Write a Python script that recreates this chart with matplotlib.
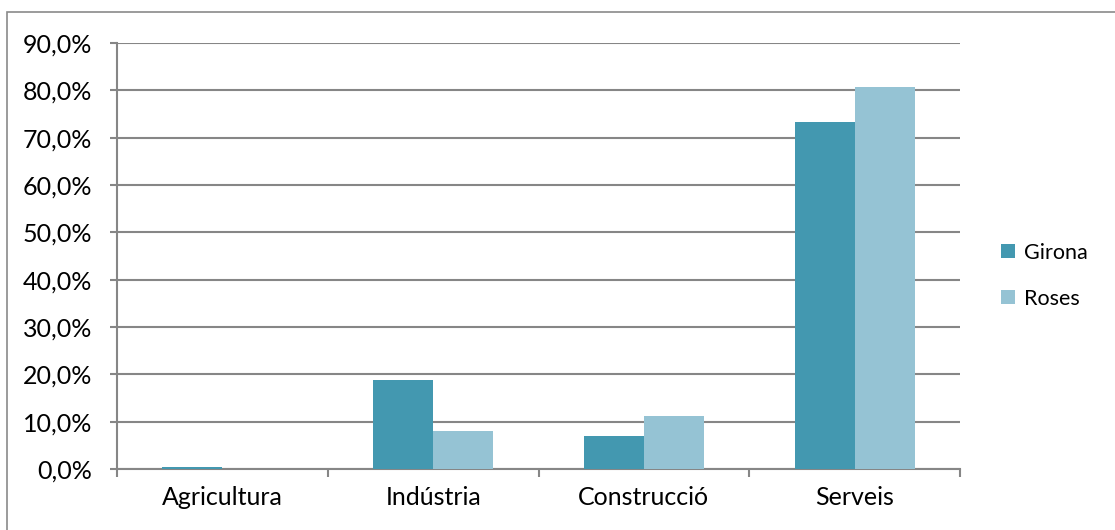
import matplotlib
matplotlib.use("Agg")
import matplotlib.pyplot as plt
from matplotlib.patches import Rectangle
from matplotlib.ticker import FixedLocator
import numpy as np

categories = ["Agricultura", "Indústria", "Construcció", "Serveis"]
girona = [0.4, 18.8, 7.0, 73.4]
roses = [0.0, 8.1, 11.1, 80.6]
series_names = ["Girona", "Roses"]
colors = ["#4398B0", "#95C3D4"]
yticks = [0, 10, 20, 30, 40, 50, 60, 70, 80, 90]
ytick_labels = ["0,0%", "10,0%", "20,0%", "30,0%", "40,0%", "50,0%", "60,0%", "70,0%", "80,0%", "90,0%"]

plt.rcParams['font.family'] = ['Lato', 'DejaVu Sans']

W, H = 1115, 530
fig = plt.figure(figsize=(W / 100, H / 100), dpi=100)
ax = fig.add_axes([117 / W, 1 - 469 / H, (960 - 117) / W, (469 - 43) / H])

grid_c = "#868686"
x = np.arange(len(categories))
bw = 0.285
ax.bar(x - bw / 2, girona, bw, color=colors[0], label=series_names[0], zorder=3)
ax.bar(x + bw / 2, roses, bw, color=colors[1], label=series_names[1], zorder=3)

ax.set_xlim(-0.5, len(categories) - 0.5)
ax.set_ylim(0, 90)
ax.set_yticks(yticks)
ax.set_yticklabels(ytick_labels)
ax.set_xticks(x)
ax.set_xticklabels(categories)
ax.tick_params(axis='x', length=0, pad=12, labelsize=18)
ax.xaxis.set_minor_locator(FixedLocator(np.arange(-0.5, len(categories), 1.0)))
ax.tick_params(axis='x', which='minor', length=6, width=1.5, color=grid_c, direction='out')
ax.tick_params(axis='y', length=5, width=1.5, color=grid_c, pad=13, labelsize=18)

ax.yaxis.grid(True, color=grid_c, linewidth=1.5, zorder=0)
ax.set_axisbelow(True)
for s in ["top", "right"]:
    ax.spines[s].set_visible(False)
for s in ["left", "bottom"]:
    ax.spines[s].set_color(grid_c)
    ax.spines[s].set_linewidth(1.5)

leg = fig.legend(loc='upper left', bbox_to_anchor=(990 / W, 1 - 232 / H),
                 frameon=False, fontsize=15.5, handlelength=0.65, handleheight=0.65,
                 handletextpad=0.45, labelspacing=1.2, borderpad=0.0)

fig.patches.append(Rectangle((7 / W, -0.1), 1.2, 1 - 12 / H + 0.1, transform=fig.transFigure,
                             fill=False, edgecolor="#8a8a8a", linewidth=1.2))

fig.savefig("out.png", dpi=100)
